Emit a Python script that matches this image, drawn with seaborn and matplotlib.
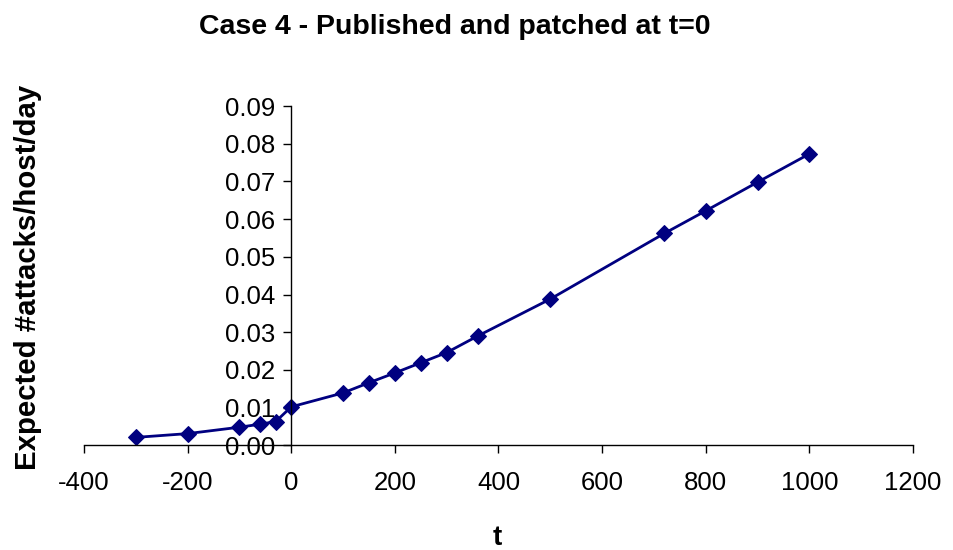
import matplotlib
matplotlib.use("Agg")
import matplotlib.pyplot as plt
import seaborn as sns
import pandas as pd

# Data
t_values = [-300, -200, -100, -60, -30, 0, 100, 150, 200, 250, 300, 360,
            500, 720, 800, 900, 1000]
attacks = [0.0021, 0.0031, 0.0048, 0.0056, 0.0063, 0.0102, 0.0139, 0.0166,
           0.0192, 0.0219, 0.0246, 0.0290, 0.0388, 0.0562, 0.0622, 0.0698,
           0.0773]
x_ticks = [-400, -200, 0, 200, 400, 600, 800, 1000, 1200]
y_ticks = [0.00, 0.01, 0.02, 0.03, 0.04, 0.05, 0.06, 0.07, 0.08, 0.09]

title_text = "Case 4 - Published and patched at t=0"
x_label = "t"
y_label = "Expected #attacks/host/day"

sns.set_style("white")
plt.rcParams['font.family'] = ['Liberation Sans', 'DejaVu Sans']
plt.rcParams['text.color'] = 'black'
plt.rcParams['axes.labelcolor'] = 'black'
plt.rcParams['xtick.color'] = 'black'
plt.rcParams['ytick.color'] = 'black'

df = pd.DataFrame({"t": t_values, "val": attacks})

fig = plt.figure(figsize=(9.54, 5.5), dpi=100)
ax = fig.add_axes([84 / 954, 1 - 445.3 / 550, (913 - 84) / 954, (445.3 - 106) / 550])

sns.lineplot(data=df, x="t", y="val", ax=ax, color="#000080", linewidth=2.0,
             marker="D", markersize=8, markeredgecolor="#000080",
             markerfacecolor="#000080", sort=False)

ax.set_xlim(-400, 1200)
ax.set_ylim(0, 0.09)
ax.set_xticks(x_ticks)
ax.set_yticks(y_ticks)
ax.set_xticklabels([str(v) for v in x_ticks])
ax.set_yticklabels([f"{v:.2f}" for v in y_ticks])

for s in ["top", "right"]:
    ax.spines[s].set_visible(False)
ax.spines["left"].set_position(("data", 0))
ax.spines["left"].set_color("black")
ax.spines["bottom"].set_color("black")
ax.spines["left"].set_linewidth(1.0)
ax.spines["bottom"].set_linewidth(1.0)

ax.tick_params(axis="x", direction="out", length=5.5, width=1.0, color="black",
               labelcolor="black", labelsize=18.5, pad=13, bottom=True)
ax.tick_params(axis="y", direction="out", length=5.5, width=1.0, color="black",
               labelcolor="black", labelsize=18.5, pad=6, left=True)
ax.grid(False)

ax.set_xlabel(x_label, fontsize=20, fontweight="bold", color="black")
ax.set_ylabel(y_label, fontsize=21.2, fontweight="bold", color="black")
ax.xaxis.set_label_coords((497 - 84) / 829, (445.3 - 538) / 339.3)
ax.xaxis.label.set_va("center")
ax.yaxis.set_label_coords((28 - 84) / 829, (445.3 - 277) / 339.3)
ax.yaxis.label.set_va("center")

fig.text(455 / 954, 1 - 27 / 550, title_text, ha="center", va="center",
         fontsize=20.5, fontweight="bold", color="black")

fig.savefig("out.png", dpi=100)
